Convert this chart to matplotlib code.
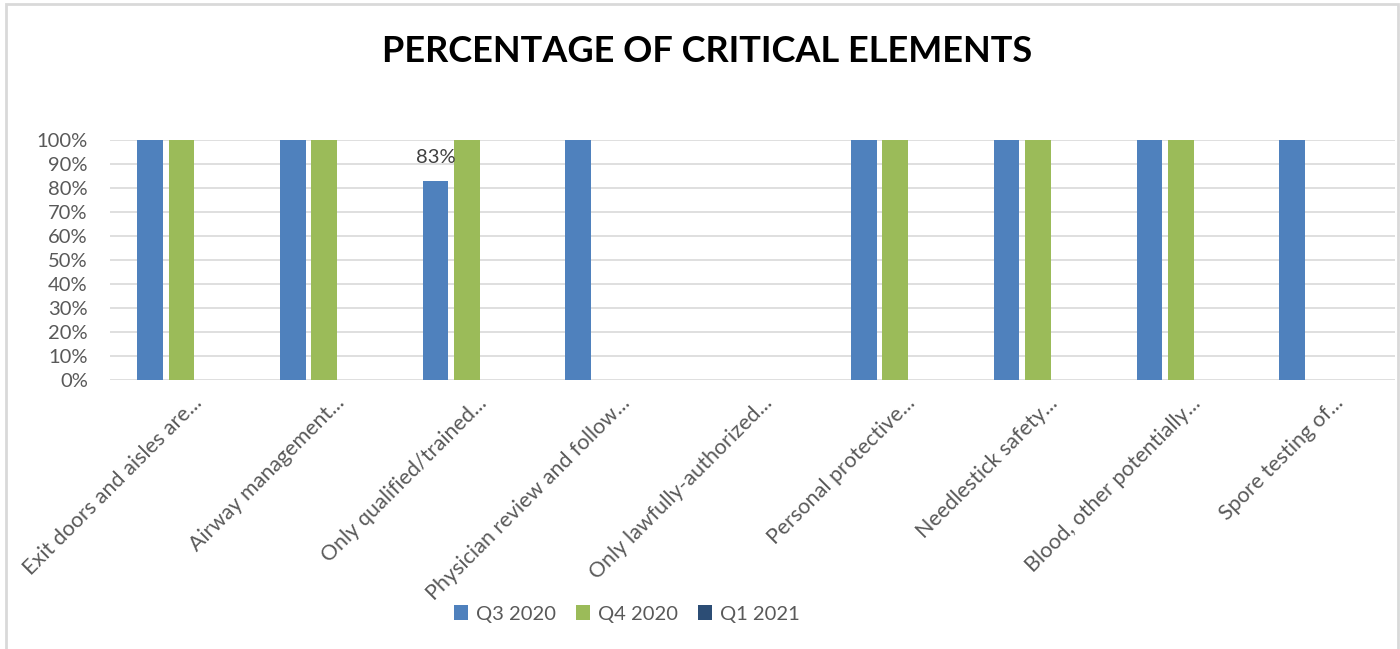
import numpy as np
import matplotlib
matplotlib.use("Agg")
import matplotlib.pyplot as plt
from matplotlib.patches import Rectangle
import matplotlib.transforms as mtransforms

plt.rcParams['font.family'] = ['Lato', 'DejaVu Sans']

categories = [
    "Exit doors and aisles are...",
    "Airway management...",
    "Only qualified/trained...",
    "Physician review and follow...",
    "Only lawfully-authorized...",
    "Personal protective...",
    "Needlestick safety...",
    "Blood, other potentially...",
    "Spore testing of...",
]
series_names = ["Q3 2020", "Q4 2020", "Q1 2021"]
q3_2020 = [1.0, 1.0, 0.83, 1.0, np.nan, 1.0, 1.0, 1.0, 1.0]
q4_2020 = [1.0, 1.0, 1.0, np.nan, np.nan, 1.0, 1.0, 1.0, np.nan]
q1_2021 = [np.nan] * 9
colors = ["#4f81bd", "#9bbb59", "#2c4d75"]

fig = plt.figure(figsize=(14, 6.49), dpi=100)
ax = fig.add_axes([110 / 1400, 1 - 380 / 649, (1395 - 110) / 1400, 240 / 649])

x = np.arange(len(categories))
width = 0.18
offset = 0.22
series = [q3_2020, q4_2020, q1_2021]
for i, (vals, name, c) in enumerate(zip(series, series_names, colors)):
    v = np.array(vals, dtype=float)
    ax.bar(x + (i - 1) * offset, np.nan_to_num(v), width, color=c, label=name, zorder=3)

# data label
ax.text(x[2] - offset, q3_2020[2] + 0.06, "83%", ha="center", va="bottom",
        fontsize=14.5, color="#404040", zorder=4)

ax.set_xlim(-0.5, len(categories) - 0.5)
ax.set_ylim(0, 1)
ax.set_yticks(np.arange(0, 1.01, 0.1))
ax.set_yticklabels([f"{int(round(t * 100))}%" for t in np.arange(0, 1.01, 0.1)],
                   fontsize=14.5, color="#595959")
ax.yaxis.grid(True, color="#d9d9d9", linewidth=1.2, zorder=0)
ax.tick_params(axis="both", length=0)
ax.tick_params(axis="y", pad=16)
for s in ax.spines.values():
    s.set_visible(False)

ax.set_xticks(x)
ax.set_xticklabels(categories, rotation=45, ha="right", rotation_mode="anchor",
                   fontsize=15.5, color="#595959")
shift = mtransforms.ScaledTranslation(10 / 100, -8 / 100, fig.dpi_scale_trans)
for lbl in ax.get_xticklabels():
    lbl.set_transform(lbl.get_transform() + shift)

fig.text(0.5 * (383 + 1032) / 1400, 1 - 52 / 649, "PERCENTAGE OF CRITICAL ELEMENTS",
         ha="center", va="center", fontsize=26, fontweight="bold", color="black")

leg = fig.legend(loc="center", bbox_to_anchor=(627 / 1400, 1 - 614 / 649), ncol=3,
                 frameon=False, fontsize=14.5, handlelength=0.7, handleheight=0.7,
                 handletextpad=0.4, columnspacing=1.0, labelcolor="#595959")

fig.patches.append(Rectangle((6 / 1400, -0.01), (1398 - 6) / 1400, 1 - 4 / 649 + 0.01,
                             transform=fig.transFigure, fill=False,
                             edgecolor="#d9d9d9", linewidth=2))

fig.savefig("out.png", dpi=100, facecolor="white")
